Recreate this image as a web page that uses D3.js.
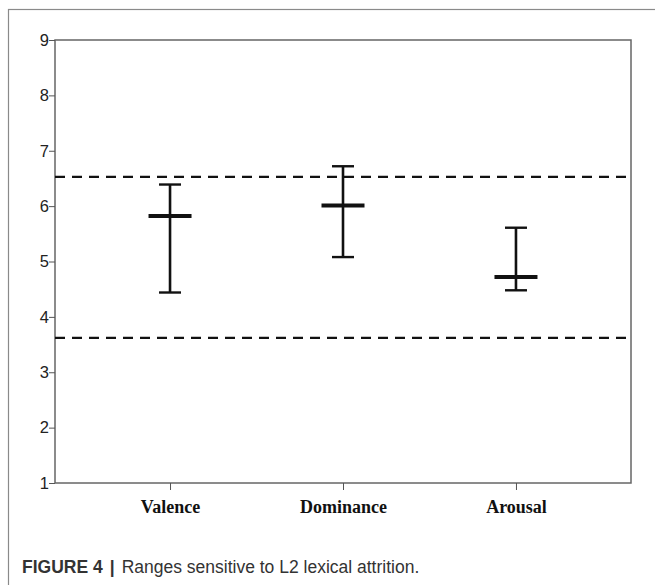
<!DOCTYPE html>
<html>
<head>
<meta charset="utf-8">
<script src="https://cdn.jsdelivr.net/npm/d3@7"></script>
<style>
  body { margin: 0; background: #fff; }
  svg { display: block; }
</style>
</head>
<body>
<svg width="655" height="585"></svg>
<script>
const categories = ["Valence", "Dominance", "Arousal"];
const means = [5.82, 6.01, 4.72];
const upper = [6.39, 6.72, 5.61];
const lower = [4.44, 5.08, 4.48];
const refLines = [6.53, 3.62];
const yTicks = [1, 2, 3, 4, 5, 6, 7, 8, 9];

const svg = d3.select("svg");
const margin = { top: 40, right: 24, bottom: 102, left: 55 };
const width = 655 - margin.left - margin.right;
const height = 585 - margin.top - margin.bottom;

// outer figure frame
svg.append("rect")
  .attr("x", 8.5).attr("y", 9.5)
  .attr("width", 660).attr("height", 600)
  .attr("fill", "none")
  .attr("stroke", "#8a8a8a")
  .attr("stroke-width", 1.2);

const g = svg.append("g")
  .attr("transform", `translate(${margin.left},${margin.top})`);

const x = d3.scalePoint()
  .domain(categories)
  .range([0, width])
  .padding(0.665);

const y = d3.scaleLinear()
  .domain([1, 9])
  .range([height, 0]);

// plot box
g.append("rect")
  .attr("width", width).attr("height", height)
  .attr("fill", "none")
  .attr("stroke", "#666")
  .attr("stroke-width", 1.5);

// y axis
const yAxis = g.append("g")
  .call(d3.axisLeft(y).tickValues(yTicks).tickSize(6).tickPadding(0).tickFormat(d3.format("d")));
yAxis.select(".domain").remove();
yAxis.selectAll("line").attr("stroke", "#555");
yAxis.selectAll("text")
  .attr("font-family", "Liberation Sans, Arial, sans-serif")
  .attr("font-size", 16.5)
  .attr("fill", "#222");

// x axis
const xAxis = g.append("g")
  .attr("transform", `translate(0,${height})`)
  .call(d3.axisBottom(x).tickSize(7).tickPadding(10));
xAxis.select(".domain").remove();
xAxis.selectAll("line").attr("stroke", "#555");
xAxis.selectAll("text")
  .attr("font-family", "Liberation Serif, Times New Roman, serif")
  .attr("font-weight", "bold")
  .attr("font-size", 18)
  .attr("fill", "#111");

// dashed reference lines
g.selectAll(".ref")
  .data(refLines)
  .enter()
  .append("line")
  .attr("class", "ref")
  .attr("x1", 0).attr("x2", width)
  .attr("y1", d => y(d)).attr("y2", d => y(d))
  .attr("stroke", "#111")
  .attr("stroke-width", 2.2)
  .attr("stroke-dasharray", "10,7");

// error bars
const bars = g.selectAll(".bar")
  .data(categories.map((c, i) => ({ c, mean: means[i], hi: upper[i], lo: lower[i] })))
  .enter()
  .append("g")
  .attr("class", "bar")
  .attr("transform", d => `translate(${x(d.c)},0)`);

bars.append("line")
  .attr("y1", d => y(d.hi)).attr("y2", d => y(d.lo))
  .attr("stroke", "#111").attr("stroke-width", 2.6);

bars.append("line")
  .attr("x1", -11).attr("x2", 11)
  .attr("y1", d => y(d.hi)).attr("y2", d => y(d.hi))
  .attr("stroke", "#111").attr("stroke-width", 2.4);

bars.append("line")
  .attr("x1", -11).attr("x2", 11)
  .attr("y1", d => y(d.lo)).attr("y2", d => y(d.lo))
  .attr("stroke", "#111").attr("stroke-width", 2.4);

bars.append("line")
  .attr("x1", -21.5).attr("x2", 21.5)
  .attr("y1", d => y(d.mean)).attr("y2", d => y(d.mean))
  .attr("stroke", "#111").attr("stroke-width", 4);

// caption
const cap = svg.append("text")
  .attr("x", 22).attr("y", 573)
  .attr("font-family", "Liberation Sans, Arial, sans-serif")
  .attr("font-size", 17.5)
  .attr("fill", "#333");
cap.append("tspan").attr("font-weight", "bold").text("FIGURE 4");
cap.append("tspan").attr("font-weight", "bold").attr("dx", 7).text("|");
cap.append("tspan").attr("dx", 7).text("Ranges sensitive to L2 lexical attrition.");
</script>
</body>
</html>
